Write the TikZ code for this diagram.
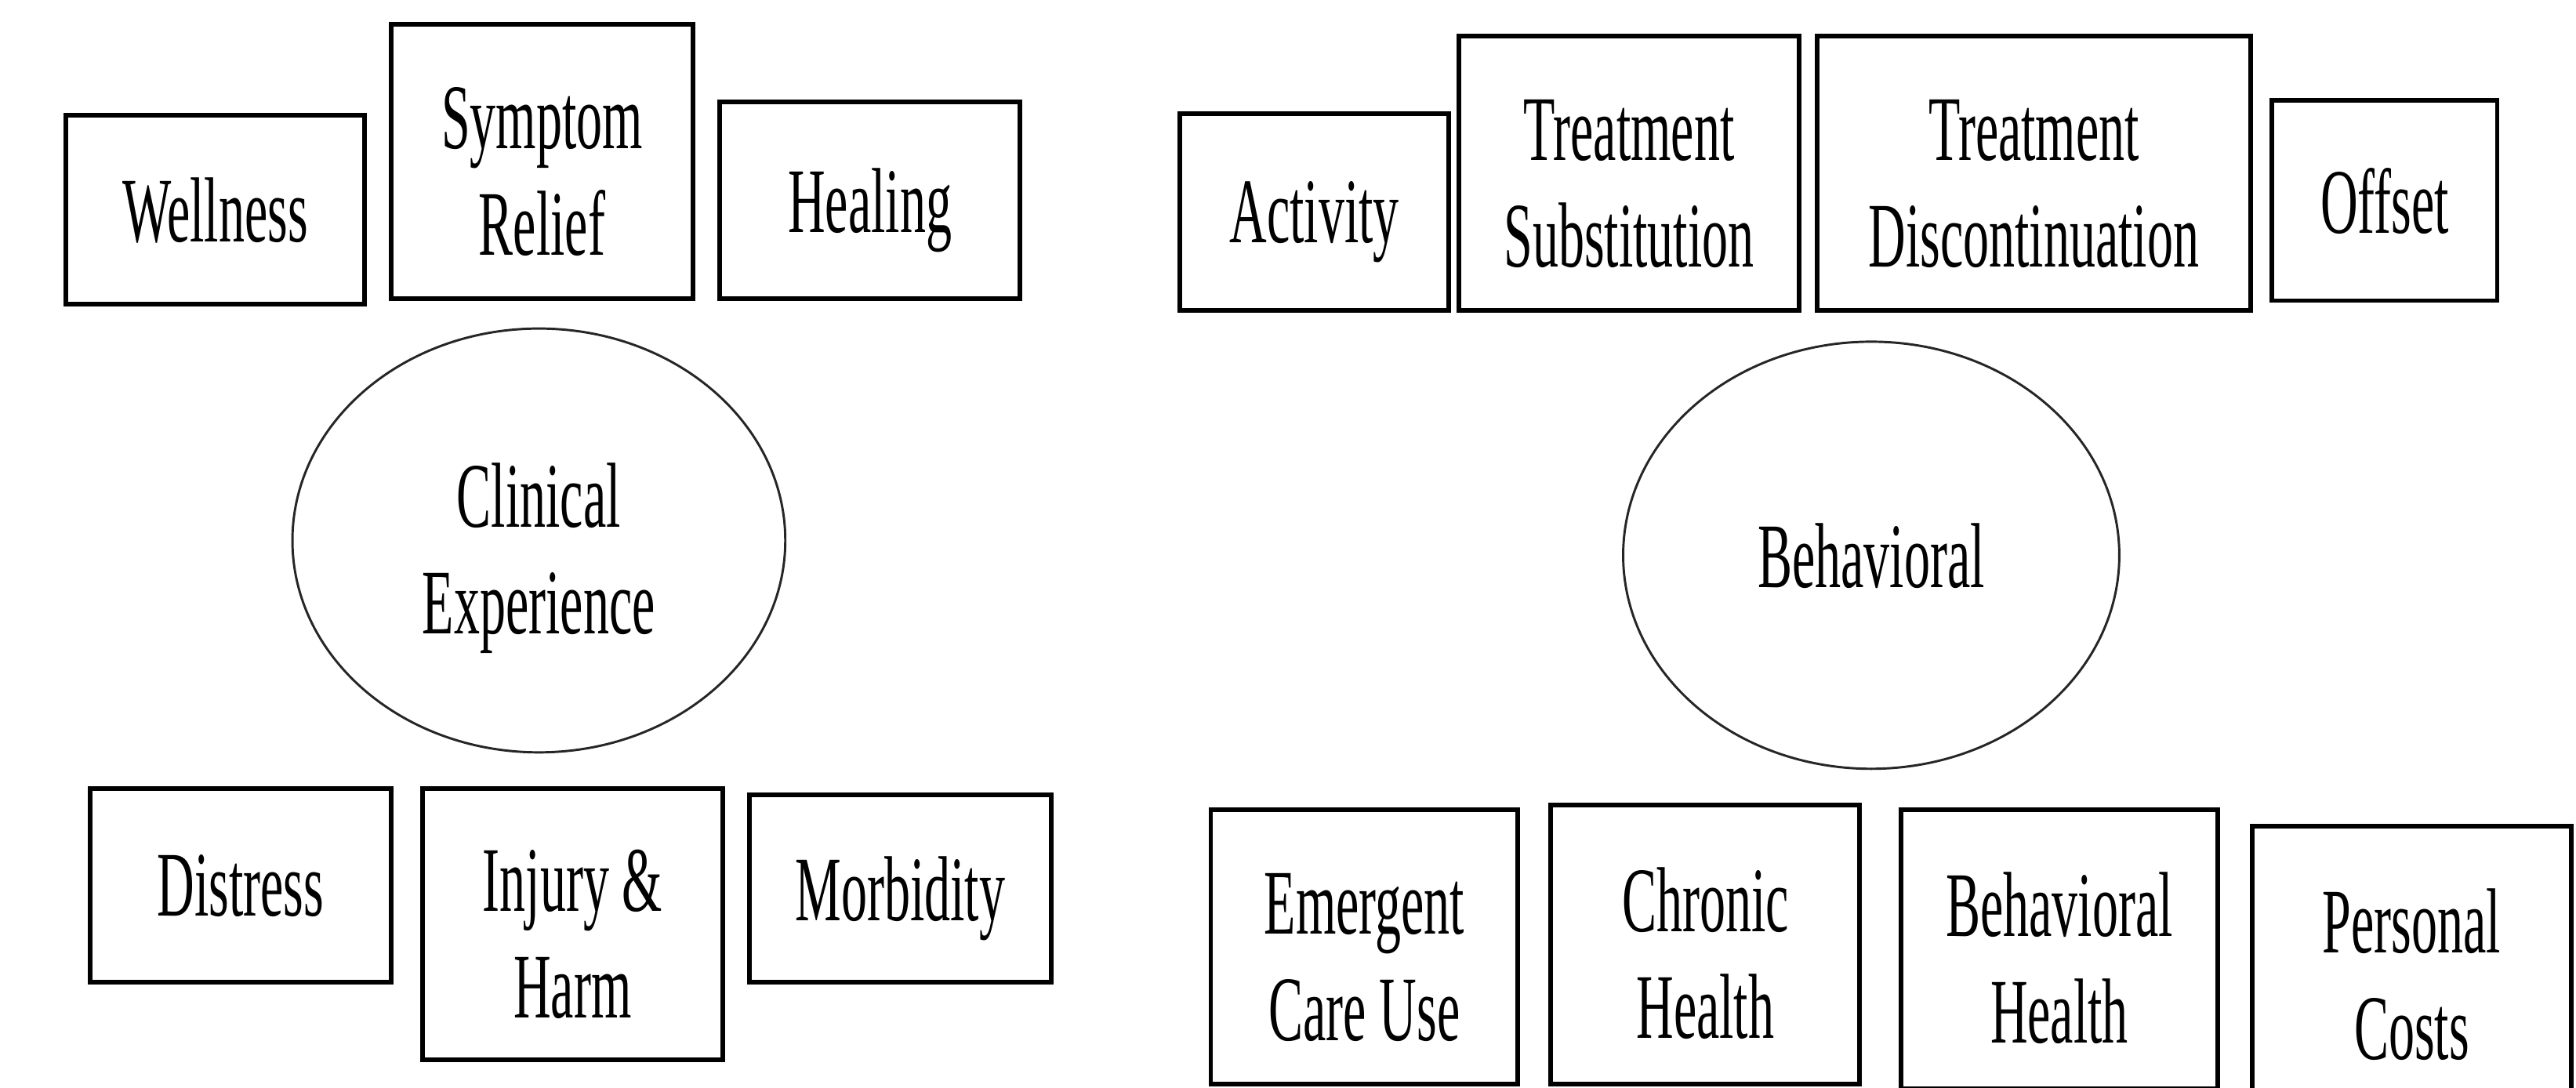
\documentclass[tikz,border=0pt]{standalone}
\usepackage{fontspec}
\setmainfont{Liberation Serif}[FakeStretch=0.56]
\usepackage{tikz}
\usetikzlibrary{positioning,shapes}

\begin{document}
\begin{tikzpicture}
[   box/.style={draw=black, line width=1.6pt, rectangle, inner sep=0pt, align=center, text depth=0pt, font=\fontsize{32}{37}\selectfont},
    cnode/.style={draw=black!85, line width=0.8pt, ellipse, inner sep=0pt, align=center, text depth=0pt, font=\fontsize{32}{37}\selectfont},
    tall/.style={text height=2.28cm}, ]

    \clip (0,0) rectangle (31.36,13.24);

    % clinical experience
    \node[box, minimum width=3.64cm, minimum height=2.30cm] (wellness) at (2.62,10.69) {Wellness};
    \node[box, tall, minimum width=3.68cm, minimum height=3.34cm] (symptom) at (6.60,11.27) {Symptom\\Relief};
    \node[box, minimum width=3.66cm, minimum height=2.40cm] (healing) at (10.59,10.80) {Healing};

    \node[cnode, tall, minimum width=6.00cm, minimum height=5.16cm] (clinical) at (6.56,6.66) {Clinical\\Experience};

    \node[box, minimum width=3.66cm, minimum height=2.36cm] (distress) at (2.93,2.46) {Distress};
    \node[box, tall, minimum width=3.66cm, minimum height=3.30cm] (injury) at (6.97,1.99) {Injury \&\\Harm};
    \node[box, minimum width=3.68cm, minimum height=2.28cm] (morbidity) at (10.96,2.42) {Morbidity};

    % behavioral
    \node[box, minimum width=3.28cm, minimum height=2.40cm] (activity) at (16.00,10.66) {Activity};
    \node[box, tall, minimum width=4.14cm, minimum height=3.34cm] (substitution) at (19.83,11.13) {Treatment\\Substitution};
    \node[box, tall, minimum width=5.28cm, minimum height=3.34cm] (discontinuation) at (24.76,11.13) {Treatment\\Discontinuation};
    \node[box, minimum width=2.74cm, minimum height=2.44cm] (offset) at (29.03,10.80) {Offset};

    \node[cnode, minimum width=6.04cm, minimum height=5.20cm] (behavioral) at (22.78,6.48) {Behavioral};

    \node[box, tall, minimum width=3.74cm, minimum height=3.34cm] (emergent) at (16.61,1.71) {Emergent\\Care Use};
    \node[box, tall, minimum width=3.76cm, minimum height=3.40cm] (chronic) at (20.76,1.74) {Chronic\\Health};
    \node[box, tall, minimum width=3.86cm, minimum height=3.40cm] (behhealth) at (25.07,1.68) {Behavioral\\Health};
    \node[box, tall, minimum width=3.88cm, minimum height=3.40cm] (personal) at (29.36,1.48) {Personal\\Costs};

\end{tikzpicture}
\end{document}
